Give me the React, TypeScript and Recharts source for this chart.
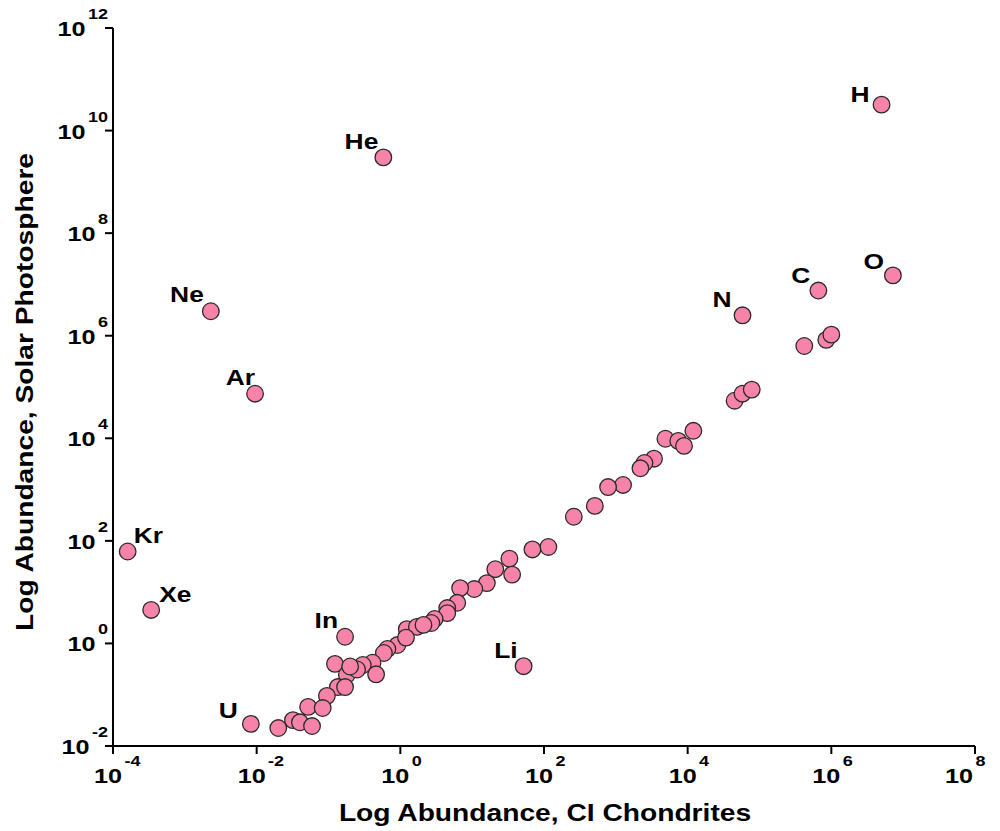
import { Scatter, ScatterChart, XAxis, YAxis } from "recharts"

const elements = [
  "H", "He", "O", "C", "N", "Ne", "Ar", "Kr", "Xe", "In", "Li", "U",
  "", "", "", "", "", "", "", "", "", "", "", "", "", "", "", "", "", "", "", "", "", "", "", "",
  "", "", "", "", "", "", "", "", "", "", "", "", "", "", "", "", "", "", "", "", "", "", "", "",
  "", "", "", "", "",
]

// CI chondrite abundance
const chondrites = [
  5.0e6, 0.58, 7.2e6, 6.6e5, 5.8e4, 2.3e-3, 9.5e-3, 1.6e-4, 3.4e-4, 0.17, 52, 8.3e-3,
  4.5e4, 5.8e4, 7.8e4, 4.2e5, 8.5e5, 1.0e6, 1.2e4, 4.9e3, 7.4e3, 8.9e3, 3.4e3, 2.5e3,
  2.2e3, 1.26e3, 780, 510, 260, 115, 69, 33, 21, 36, 16, 10.7, 6.8, 6.2, 4.5, 4.5,
  3.0, 2.7, 1.23, 1.7, 2.1, 0.91, 0.66, 0.59, 1.2, 0.41, 0.30, 0.46, 0.123, 0.18, 0.25, 0.20,
  0.135, 0.17, 0.095, 0.052, 0.083, 0.032, 0.040, 0.059, 0.020,
]

// solar photosphere abundance
const photosphere = [
  3.2e10, 3.0e9, 1.5e7, 7.6e6, 2.5e6, 3.0e6, 7.4e4, 62, 4.5, 1.35, 0.36, 0.027,
  5.4e4, 7.4e4, 8.9e4, 6.3e5, 8.3e5, 1.05e6, 1.4e4, 9.8e3, 8.9e3, 7.1e3, 4.0e3, 3.3e3,
  2.6e3, 1.23e3, 1.12e3, 480, 295, 76, 68, 45, 28, 22, 15, 11.5, 12, 6.2, 4.9, 3.9,
  3.0, 2.5, 1.9, 2.1, 2.3, 0.93, 0.78, 0.65, 1.3, 0.42, 0.38, 0.25, 0.40, 0.245, 0.31, 0.355,
  0.141, 0.141, 0.095, 0.058, 0.055, 0.032, 0.029, 0.0245, 0.0224,
]

const xTicks = [1e-4, 1e-2, 1, 1e2, 1e4, 1e6, 1e8]
const yTicks = [1e-2, 1, 1e2, 1e4, 1e6, 1e8, 1e10, 1e12]

const xTitle = "Log Abundance, CI Chondrites"
const yTitle = "Log Abundance, Solar Photosphere"

const points = elements.map((name, i) => ({ name, x: chondrites[i], y: photosphere[i] }))

// where each element label sits relative to its point
const labelPlacement: Record<string, { dx: number; dy: number; anchor: "start" | "end" }> = {
  H: { dx: -12, dy: -3, anchor: "end" },
  He: { dx: -5, dy: -8, anchor: "end" },
  O: { dx: -9, dy: -6, anchor: "end" },
  C: { dx: -8, dy: -8, anchor: "end" },
  N: { dx: -11, dy: -8, anchor: "end" },
  Ne: { dx: -7, dy: -9, anchor: "end" },
  Ar: { dx: 0, dy: -9, anchor: "end" },
  Kr: { dx: 6, dy: -9, anchor: "start" },
  Xe: { dx: 8, dy: -8, anchor: "start" },
  In: { dx: -7, dy: -9, anchor: "end" },
  Li: { dx: -6, dy: -8, anchor: "end" },
  U: { dx: -13, dy: -6, anchor: "end" },
}

const FONT = '"Liberation Sans", Arial, sans-serif'
const SX = 1.2 // the original lettering is wider than Arial

const exp = (v: number) => String(Math.round(Math.log10(v)))

const Pow = ({ x, y, anchor, value }: { x: number; y: number; anchor: "start" | "end"; value: number }) => (
  <text
    transform={`translate(${x},${y}) scale(${SX},1)`}
    textAnchor={anchor}
    fontFamily={FONT}
    fontWeight="bold"
    fill="#000"
  >
    <tspan fontSize={21}>10</tspan>
    <tspan fontSize={15} dx={2} dy={-17}>{exp(value)}</tspan>
  </text>
)

const XTick = (props: any) => <Pow x={props.x - 19} y={props.y + 27} anchor="start" value={props.payload.value} />

const YTick = (props: any) => <Pow x={props.x + 5} y={props.y + 8} anchor="end" value={props.payload.value} />

const XTitle = () => (
  <text
    transform={`translate(545,821) scale(${SX},1)`}
    textAnchor="middle"
    fontFamily={FONT}
    fontWeight="bold"
    fontSize={23.5}
    fill="#000"
  >
    {xTitle}
  </text>
)

const YTitle = () => (
  <text
    transform={`translate(33,392) rotate(-90) scale(${SX},1)`}
    textAnchor="middle"
    fontFamily={FONT}
    fontWeight="bold"
    fontSize={23.5}
    fill="#000"
  >
    {yTitle}
  </text>
)

const Dot = (props: any) => {
  const { cx, cy, payload } = props
  const lab = payload.name ? labelPlacement[payload.name] : null
  return (
    <g>
      <circle cx={cx} cy={cy} r={8.3} fill="#f783a9" stroke="#2a2a2a" strokeWidth={1.3} />
      {lab && (
        <text
          transform={`translate(${cx + lab.dx},${cy + lab.dy}) scale(${SX},1)`}
          textAnchor={lab.anchor}
          fontFamily={FONT}
          fontWeight="bold"
          fontSize={22}
          fill="#000"
        >
          {payload.name}
        </text>
      )}
    </g>
  )
}

export default function App() {
  return (
    <div style={{ position: "absolute", left: 0, top: 0, width: 1000, height: 831, background: "#fff" }}>
      <ScatterChart width={1000} height={831} margin={{ top: 28, right: 25, bottom: 25, left: 13 }}>
        <XAxis
          type="number"
          dataKey="x"
          scale="log"
          domain={[1e-4, 1e8]}
          ticks={xTicks}
          allowDataOverflow
          height={60}
          tickSize={8}
          axisLine={{ stroke: "#000", strokeWidth: 2 }}
          tickLine={{ stroke: "#000", strokeWidth: 2 }}
          tick={<XTick />}
          label={<XTitle />}
        />
        <YAxis
          type="number"
          dataKey="y"
          scale="log"
          domain={[1e-2, 1e12]}
          ticks={yTicks}
          allowDataOverflow
          width={100}
          tickSize={8}
          axisLine={{ stroke: "#000", strokeWidth: 2 }}
          tickLine={{ stroke: "#000", strokeWidth: 2 }}
          tick={<YTick />}
          label={<YTitle />}
        />
        <Scatter data={points} shape={<Dot />} isAnimationActive={false} />
      </ScatterChart>
    </div>
  )
}
